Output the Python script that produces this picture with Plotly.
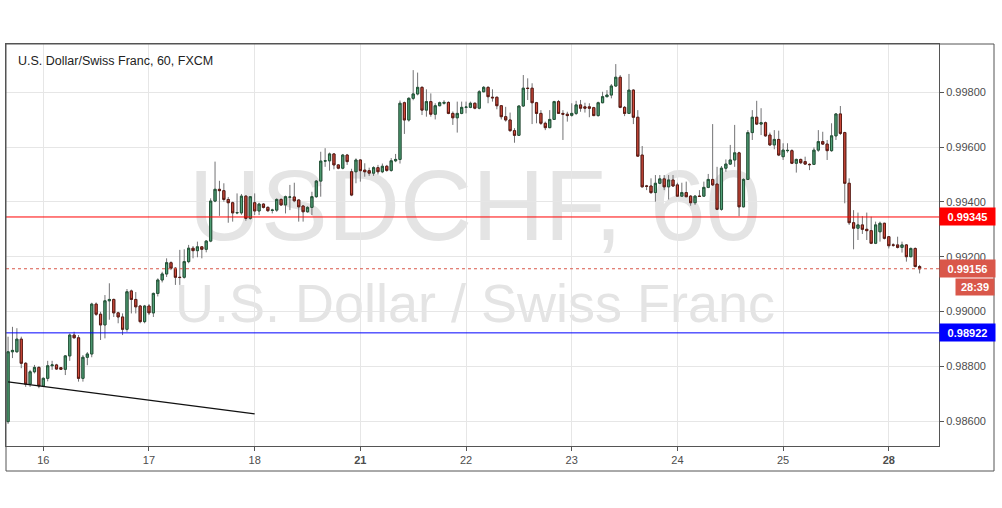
import plotly.graph_objects as go

# ---------------- data ----------------
day_ticks = [8, 32, 56, 80, 104, 128, 152, 176, 200]
day_labels = ["16", "17", "18", "<b>21</b>", "22", "23", "24", "25", "<b>28</b>"]
price_ticks = [0.986, 0.988, 0.990, 0.992, 0.994, 0.996, 0.998]

opens = [
    0.98598, 0.98853, 0.98853, 0.98899, 0.98811, 0.98735, 0.98780, 0.98796, 0.98728, 0.98756,
    0.98802, 0.98805, 0.98795, 0.98789, 0.98838, 0.98914, 0.98904, 0.98756, 0.98833, 0.98845,
    0.99027, 0.98990, 0.98951, 0.99039, 0.99044, 0.98995, 0.98980, 0.98935, 0.99075, 0.99044,
    0.99020, 0.98963, 0.99020, 0.98995, 0.99066, 0.99115, 0.99137, 0.99178, 0.99158, 0.99125,
    0.99125, 0.99182, 0.99231, 0.99222, 0.99236, 0.99227, 0.99257, 0.99403, 0.99446, 0.99441,
    0.99409, 0.99397, 0.99360, 0.99360, 0.99421, 0.99340, 0.99397, 0.99367, 0.99392, 0.99380,
    0.99369, 0.99370, 0.99409, 0.99389, 0.99417, 0.99418, 0.99407, 0.99385, 0.99364, 0.99380,
    0.99419, 0.99476, 0.99549, 0.99550, 0.99575, 0.99535, 0.99523, 0.99571, 0.99510, 0.99510,
    0.99553, 0.99516, 0.99514, 0.99505, 0.99525, 0.99510, 0.99530, 0.99515, 0.99550, 0.99555,
    0.99762, 0.99699, 0.99778, 0.99794, 0.99818, 0.99735, 0.99766, 0.99720, 0.99751, 0.99760,
    0.99763, 0.99723, 0.99707, 0.99723, 0.99745, 0.99745, 0.99760, 0.99742, 0.99802, 0.99818,
    0.99782, 0.99782, 0.99751, 0.99711, 0.99699, 0.99660, 0.99643, 0.99750, 0.99815, 0.99815,
    0.99762, 0.99723, 0.99687, 0.99671, 0.99701, 0.99766, 0.99723, 0.99720, 0.99716, 0.99723,
    0.99754, 0.99747, 0.99747, 0.99744, 0.99715, 0.99762, 0.99784, 0.99790, 0.99823, 0.99855,
    0.99745, 0.99723, 0.99808, 0.99709, 0.99571, 0.99458, 0.99458, 0.99434, 0.99468, 0.99484,
    0.99455, 0.99480, 0.99462, 0.99421, 0.99434, 0.99421, 0.99397, 0.99421, 0.99421, 0.99453,
    0.99482, 0.99465, 0.99373, 0.99523, 0.99538, 0.99553, 0.99579, 0.99382, 0.99482, 0.99653,
    0.99709, 0.99684, 0.99689, 0.99644, 0.99608, 0.99628, 0.99565, 0.99587, 0.99587, 0.99541,
    0.99555, 0.99547, 0.99537, 0.99537, 0.99589, 0.99620, 0.99611, 0.99587, 0.99641, 0.99721,
    0.99653, 0.99468, 0.99324, 0.99304, 0.99316, 0.99300, 0.99295, 0.99249, 0.99291, 0.99322,
    0.99273, 0.99243, 0.99243, 0.99234, 0.99243, 0.99200, 0.99230, 0.99164,
]
highs = [
    0.98908, 0.98944, 0.98939, 0.98908, 0.98815, 0.98787, 0.98805, 0.98800, 0.98760, 0.98820,
    0.98820, 0.98809, 0.98796, 0.98841, 0.98920, 0.98926, 0.98914, 0.98841, 0.98852, 0.99032,
    0.99033, 0.98999, 0.99060, 0.99103, 0.99047, 0.98999, 0.98993, 0.99082, 0.99080, 0.99071,
    0.99024, 0.99024, 0.99027, 0.99069, 0.99121, 0.99145, 0.99194, 0.99183, 0.99162, 0.99225,
    0.99227, 0.99243, 0.99239, 0.99255, 0.99238, 0.99261, 0.99413, 0.99547, 0.99477, 0.99468,
    0.99418, 0.99401, 0.99431, 0.99429, 0.99425, 0.99421, 0.99431, 0.99397, 0.99395, 0.99384,
    0.99375, 0.99413, 0.99413, 0.99423, 0.99462, 0.99470, 0.99409, 0.99388, 0.99384, 0.99437,
    0.99480, 0.99583, 0.99596, 0.99580, 0.99578, 0.99538, 0.99575, 0.99575, 0.99521, 0.99559,
    0.99556, 0.99541, 0.99525, 0.99530, 0.99535, 0.99540, 0.99535, 0.99560, 0.99575, 0.99770,
    0.99766, 0.99782, 0.99881, 0.99872, 0.99822, 0.99811, 0.99796, 0.99760, 0.99766, 0.99771,
    0.99767, 0.99730, 0.99766, 0.99766, 0.99766, 0.99766, 0.99763, 0.99808, 0.99823, 0.99822,
    0.99811, 0.99784, 0.99753, 0.99747, 0.99726, 0.99669, 0.99751, 0.99863, 0.99851, 0.99833,
    0.99765, 0.99735, 0.99693, 0.99735, 0.99769, 0.99772, 0.99735, 0.99729, 0.99760, 0.99769,
    0.99772, 0.99762, 0.99760, 0.99747, 0.99766, 0.99802, 0.99808, 0.99830, 0.99903, 0.99863,
    0.99750, 0.99867, 0.99811, 0.99735, 0.99604, 0.99462, 0.99486, 0.99498, 0.99498, 0.99498,
    0.99498, 0.99498, 0.99470, 0.99470, 0.99474, 0.99425, 0.99425, 0.99443, 0.99474, 0.99502,
    0.99684, 0.99528, 0.99531, 0.99555, 0.99608, 0.99681, 0.99583, 0.99486, 0.99662, 0.99735,
    0.99769, 0.99742, 0.99693, 0.99653, 0.99662, 0.99660, 0.99614, 0.99614, 0.99592, 0.99558,
    0.99558, 0.99565, 0.99541, 0.99599, 0.99662, 0.99656, 0.99626, 0.99687, 0.99723, 0.99750,
    0.99656, 0.99486, 0.99370, 0.99361, 0.99348, 0.99361, 0.99346, 0.99328, 0.99328, 0.99324,
    0.99275, 0.99249, 0.99273, 0.99255, 0.99246, 0.99234, 0.99234, 0.99170,
]
lows = [
    0.98590, 0.98830, 0.98850, 0.98793, 0.98725, 0.98725, 0.98774, 0.98720, 0.98725, 0.98745,
    0.98787, 0.98787, 0.98787, 0.98768, 0.98820, 0.98902, 0.98744, 0.98744, 0.98804, 0.98833,
    0.98984, 0.98896, 0.98902, 0.98970, 0.98980, 0.98957, 0.98914, 0.98926, 0.98993, 0.98993,
    0.98957, 0.98957, 0.98987, 0.98980, 0.99055, 0.99106, 0.99126, 0.99151, 0.99097, 0.99097,
    0.99120, 0.99176, 0.99194, 0.99198, 0.99194, 0.99216, 0.99253, 0.99399, 0.99349, 0.99401,
    0.99324, 0.99328, 0.99355, 0.99353, 0.99331, 0.99335, 0.99352, 0.99352, 0.99376, 0.99363,
    0.99358, 0.99364, 0.99385, 0.99358, 0.99370, 0.99399, 0.99328, 0.99328, 0.99361, 0.99352,
    0.99415, 0.99419, 0.99528, 0.99514, 0.99519, 0.99519, 0.99519, 0.99535, 0.99421, 0.99468,
    0.99474, 0.99492, 0.99495, 0.99495, 0.99500, 0.99505, 0.99510, 0.99510, 0.99545, 0.99540,
    0.99648, 0.99693, 0.99771, 0.99789, 0.99717, 0.99711, 0.99711, 0.99701, 0.99749, 0.99755,
    0.99720, 0.99681, 0.99653, 0.99720, 0.99723, 0.99742, 0.99738, 0.99738, 0.99800, 0.99760,
    0.99766, 0.99738, 0.99701, 0.99693, 0.99656, 0.99616, 0.99641, 0.99747, 0.99772, 0.99684,
    0.99687, 0.99681, 0.99662, 0.99669, 0.99699, 0.99721, 0.99626, 0.99693, 0.99711, 0.99717,
    0.99729, 0.99726, 0.99709, 0.99713, 0.99711, 0.99760, 0.99782, 0.99778, 0.99820, 0.99742,
    0.99713, 0.99721, 0.99684, 0.99565, 0.99453, 0.99443, 0.99429, 0.99401, 0.99465, 0.99443,
    0.99409, 0.99455, 0.99419, 0.99419, 0.99417, 0.99386, 0.99389, 0.99419, 0.99419, 0.99450,
    0.99458, 0.99370, 0.99368, 0.99510, 0.99535, 0.99528, 0.99348, 0.99380, 0.99480, 0.99626,
    0.99681, 0.99644, 0.99638, 0.99604, 0.99592, 0.99567, 0.99553, 0.99580, 0.99538, 0.99507,
    0.99538, 0.99535, 0.99516, 0.99535, 0.99583, 0.99608, 0.99553, 0.99583, 0.99626, 0.99644,
    0.99395, 0.99316, 0.99227, 0.99261, 0.99283, 0.99261, 0.99246, 0.99246, 0.99255, 0.99263,
    0.99230, 0.99236, 0.99230, 0.99215, 0.99182, 0.99198, 0.99161, 0.99139,
]
closes = [
    0.98853, 0.98858, 0.98899, 0.98811, 0.98735, 0.98780, 0.98796, 0.98728, 0.98756, 0.98802,
    0.98805, 0.98790, 0.98789, 0.98838, 0.98914, 0.98904, 0.98756, 0.98833, 0.98845, 0.99027,
    0.98990, 0.98951, 0.99039, 0.99044, 0.98995, 0.98980, 0.98935, 0.99072, 0.99044, 0.99017,
    0.98963, 0.99020, 0.98995, 0.99066, 0.99115, 0.99137, 0.99178, 0.99158, 0.99125, 0.99124,
    0.99182, 0.99231, 0.99222, 0.99236, 0.99227, 0.99257, 0.99403, 0.99446, 0.99441, 0.99409,
    0.99397, 0.99360, 0.99361, 0.99421, 0.99340, 0.99419, 0.99367, 0.99392, 0.99380, 0.99368,
    0.99370, 0.99409, 0.99389, 0.99419, 0.99418, 0.99404, 0.99382, 0.99364, 0.99380, 0.99419,
    0.99476, 0.99549, 0.99550, 0.99575, 0.99535, 0.99523, 0.99571, 0.99547, 0.99425, 0.99553,
    0.99514, 0.99510, 0.99505, 0.99525, 0.99510, 0.99530, 0.99515, 0.99550, 0.99555, 0.99760,
    0.99699, 0.99778, 0.99794, 0.99818, 0.99735, 0.99766, 0.99720, 0.99751, 0.99762, 0.99763,
    0.99723, 0.99707, 0.99723, 0.99745, 0.99746, 0.99760, 0.99742, 0.99802, 0.99818, 0.99784,
    0.99780, 0.99751, 0.99711, 0.99699, 0.99660, 0.99643, 0.99750, 0.99815, 0.99814, 0.99762,
    0.99723, 0.99687, 0.99671, 0.99701, 0.99766, 0.99723, 0.99720, 0.99715, 0.99723, 0.99754,
    0.99742, 0.99742, 0.99742, 0.99715, 0.99762, 0.99784, 0.99790, 0.99823, 0.99855, 0.99745,
    0.99723, 0.99808, 0.99709, 0.99567, 0.99455, 0.99457, 0.99434, 0.99468, 0.99484, 0.99455,
    0.99480, 0.99458, 0.99421, 0.99434, 0.99419, 0.99397, 0.99421, 0.99420, 0.99453, 0.99482,
    0.99462, 0.99373, 0.99523, 0.99538, 0.99553, 0.99579, 0.99382, 0.99482, 0.99653, 0.99709,
    0.99684, 0.99689, 0.99641, 0.99608, 0.99628, 0.99571, 0.99589, 0.99588, 0.99541, 0.99555,
    0.99543, 0.99538, 0.99536, 0.99589, 0.99620, 0.99611, 0.99587, 0.99641, 0.99721, 0.99650,
    0.99468, 0.99324, 0.99304, 0.99316, 0.99300, 0.99295, 0.99249, 0.99316, 0.99322, 0.99267,
    0.99240, 0.99242, 0.99234, 0.99243, 0.99200, 0.99230, 0.99164, 0.99156,
]

trend_x = [0, 56]
trend_y = [0.98743, 0.98626]
level_prices = [0.99345, 0.98922]
level_colors = ["#ff0000", "#0000ff"]
countdown = "28:39"
title_text = "U.S. Dollar/Swiss Franc, 60, FXCM"
watermark_1 = "USDCHF, 60"
watermark_2 = "U.S. Dollar / Swiss Franc"

# ---------------- geometry ----------------
W, H = 1002, 508
L, R, T, B = 6, 63, 44, 62
plot_w = W - L - R
plot_h = H - T - B
y_range = [0.985091, 0.999763]
x_range = [-0.47, 211.4]

def px_x(px):
    return (px - L) / plot_w

def px_y(py):
    return (H - B - py) / plot_h

xs = list(range(len(opens)))
body_hi = [max(o, c) for o, c in zip(opens, closes)]
body_lo = [min(o, c) for o, c in zip(opens, closes)]

FONT = "Liberation Sans, Arial, sans-serif"
UP_FILL, UP_LINE = "#53a279", "#225437"
DN_FILL, DN_LINE = "#d24b3c", "#5b1a13"
WICK = "#737375"

fig = go.Figure()

# wicks (full range, gray)
fig.add_trace(go.Candlestick(
    x=xs, open=opens, high=highs, low=lows, close=closes,
    increasing=dict(line=dict(color=WICK, width=1), fillcolor=WICK),
    decreasing=dict(line=dict(color=WICK, width=1), fillcolor=WICK),
    whiskerwidth=0, hoverinfo="skip", showlegend=False,
))
# bodies
fig.add_trace(go.Candlestick(
    x=xs, open=opens, high=body_hi, low=body_lo, close=closes,
    increasing=dict(line=dict(color=UP_LINE, width=1), fillcolor=UP_FILL),
    decreasing=dict(line=dict(color=DN_LINE, width=1), fillcolor=DN_FILL),
    whiskerwidth=0, showlegend=False,
))
# trend line
fig.add_trace(go.Scatter(
    x=trend_x, y=trend_y, mode="lines",
    line=dict(color="#111111", width=1.3), showlegend=False, hoverinfo="skip",
))

shapes = []
# watermarks (below traces)
shapes.append(dict(
    type="rect", xref="paper", yref="paper", layer="below",
    x0=px_x(150), x1=px_x(800), y0=px_y(243), y1=px_y(148),
    line=dict(width=0), fillcolor="rgba(0,0,0,0)",
    label=dict(text=watermark_1, textposition="middle center",
               font=dict(size=100, color="#e4e4e4", family=FONT)),
))
shapes.append(dict(
    type="rect", xref="paper", yref="paper", layer="below",
    x0=px_x(150), x1=px_x(800), y0=px_y(325), y1=px_y(270),
    line=dict(width=0), fillcolor="rgba(0,0,0,0)",
    label=dict(text=watermark_2, textposition="middle center",
               font=dict(size=54, color="#e4e4e4", family=FONT)),
))
# level lines
for p, col in zip(level_prices, level_colors):
    shapes.append(dict(type="line", xref="paper", yref="y", x0=0, x1=1, y0=p, y1=p,
                       line=dict(color=col, width=1)))
# current price dotted line
last = closes[-1]
shapes.append(dict(type="line", xref="paper", yref="y", x0=0, x1=1, y0=last, y1=last,
                   line=dict(color="#d9574a", width=1, dash="dot")))
# outer frame
shapes.append(dict(type="rect", xref="paper", yref="paper",
                   x0=0, x1=px_x(994), y0=px_y(471), y1=1,
                   line=dict(color="#555555", width=1), fillcolor="rgba(0,0,0,0)"))

annotations = []
annotations.append(dict(
    xref="paper", yref="paper", x=px_x(16), y=px_y(61), xanchor="left", yanchor="middle",
    text=title_text, showarrow=False, font=dict(size=12.5, color="#222222", family=FONT),
))
for p, col in zip(level_prices, level_colors):
    annotations.append(dict(
        xref="paper", yref="y", x=px_x(938.5), y=p, xanchor="left", yanchor="middle",
        text="<b>%.5f</b>" % p, showarrow=False, bgcolor=col, width=51, height=13, borderpad=2,
        font=dict(size=11, color="#ffffff", family=FONT),
    ))
annotations.append(dict(
    xref="paper", yref="y", x=px_x(938.5), y=last, xanchor="left", yanchor="middle",
    text="<b>%.5f</b>" % last, showarrow=False, bgcolor="#d9574a", width=51, height=13, borderpad=2,
    font=dict(size=11, color="#ffffff", family=FONT),
))
annotations.append(dict(
    xref="paper", yref="paper", x=px_x(955), y=px_y(286.7), xanchor="left", yanchor="middle",
    text="<b>%s</b>" % countdown, showarrow=False, bgcolor="#d9574a", width=34, height=12, borderpad=2,
    font=dict(size=11, color="#ffffff", family=FONT),
))

fig.update_layout(
    width=W, height=H,
    margin=dict(l=L, r=R, t=T, b=B, pad=0),
    paper_bgcolor="#ffffff", plot_bgcolor="#ffffff",
    font=dict(family=FONT, size=11, color="#4d4d4d"),
    shapes=shapes, annotations=annotations,
    showlegend=False, boxmode="overlay",
    xaxis=dict(
        range=x_range, tickmode="array", tickvals=day_ticks, ticktext=day_labels,
        showgrid=True, gridcolor="#e6e6e6", gridwidth=1, zeroline=False,
        showline=True, mirror=True, linecolor="#555555", linewidth=1,
        ticks="outside", ticklen=4, tickcolor="#555555",
        tickfont=dict(size=11, color="#4d4d4d", family=FONT),
        rangeslider=dict(visible=False), fixedrange=True,
    ),
    yaxis=dict(
        range=y_range, side="right", tickmode="array", tickvals=price_ticks,
        ticktext=["%.5f" % v for v in price_ticks],
        showgrid=True, gridcolor="#e6e6e6", gridwidth=1, zeroline=False,
        showline=True, mirror=True, linecolor="#555555", linewidth=1,
        ticks="outside", ticklen=4, tickcolor="#555555",
        tickfont=dict(size=11, color="#4d4d4d", family=FONT), fixedrange=True,
    ),
)

fig.write_html("out.html", config={"displayModeBar": False},
               post_script="document.body.style.margin='0px';")
